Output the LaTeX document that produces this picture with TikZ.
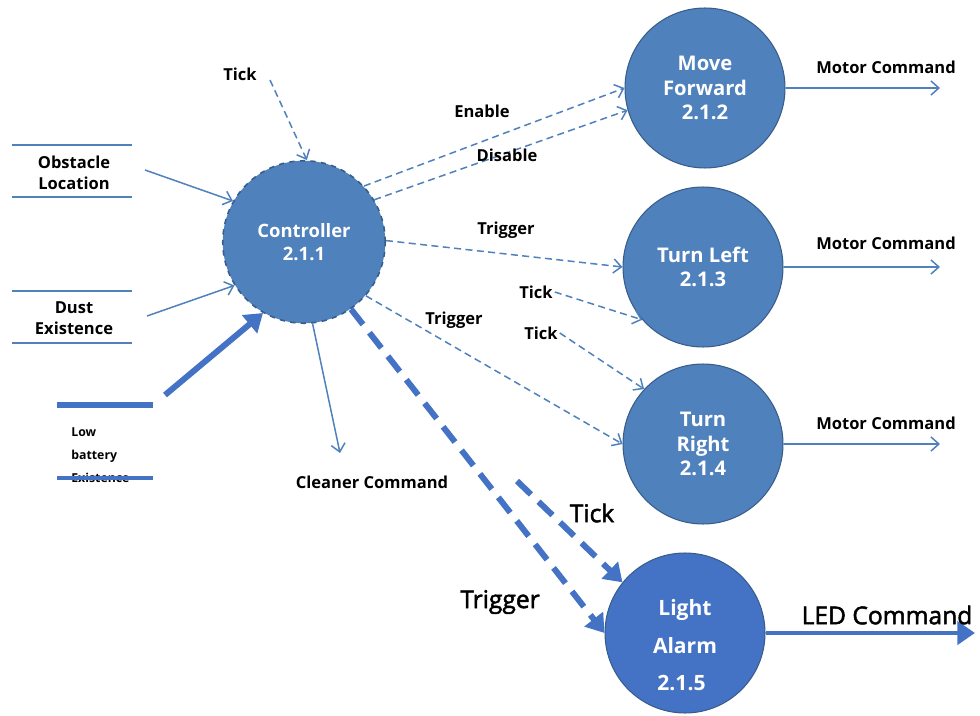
\documentclass[tikz,border=0pt]{standalone}
\usepackage{fontspec}
\setmainfont{Open Sans}
\newfontfamily\medfont[FakeBold=2]{Open Sans}
\usetikzlibrary{arrows.meta}
\definecolor{flowblue}{RGB}{79,129,189}
\definecolor{procfill}{RGB}{79,129,189}
\definecolor{procedge}{RGB}{56,93,138}
\definecolor{alarmfill}{RGB}{68,114,196}
\definecolor{boldblue}{RGB}{68,114,196}
\begin{document}
\begin{tikzpicture}[x=0.02cm,y=-0.02cm,
  proc/.style={circle,fill=procfill,draw=procedge,line width=0.6pt,minimum size=3.2cm,
    inner sep=0pt,text=white,font=\bfseries\fontsize{11.5}{14}\selectfont,align=center},
  ctrlproc/.style={proc,dashed,line width=0.9pt,minimum size=3.25cm,
    font=\bfseries\fontsize{10.5}{13}\selectfont},
  lbl/.style={font=\bfseries\fontsize{9.4}{12}\selectfont,text=black,align=center,inner sep=1pt},
  biglbl/.style={font=\medfont\fontsize{14}{16}\selectfont,text=black,inner sep=1pt},
  flow/.style={draw=flowblue,line width=0.85pt,-{Straight Barb[length=4.5pt,width=8pt]}},
  ctl/.style={flow,dash pattern=on 4pt off 2.5pt},
  boldctl/.style={draw=boldblue,line width=3.4pt,dash pattern=on 11pt off 6pt,
    -{Triangle[length=10pt,width=13pt]}},
  boldflow/.style={draw=boldblue,line width=3.4pt,-{Triangle[length=10pt,width=13pt]}},
  store/.style={draw=flowblue,line width=0.9pt},
]
\fill[white] (0,0) rectangle (980,716);
\useasboundingbox (0,0) rectangle (980,716);

% processes
\node[ctrlproc] (ctrl) at (304,242) {Controller\\2.1.1};
\node[proc] (mf) at (705,88) {Move\\Forward\\2.1.2};
\node[proc] (tl) at (703,267) {Turn Left\\2.1.3};
\node[proc] (tr) at (703,444) {Turn\\Right\\2.1.4};
\node[proc,fill=alarmfill,font=\bfseries\fontsize{12}{21.5}\selectfont] (la) at (685,633)
  {\rule{0pt}{23pt}Light\\Alarm\\2.1.5\hspace*{4pt}};

% data stores
\draw[store] (12,145) -- (132,145);
\draw[store] (12,197) -- (132,197);
\node[lbl] (obst) at (74,173) {Obstacle\\Location};
\draw[store] (12,291) -- (132,291);
\draw[store] (12,343) -- (132,343);
\node[lbl] (dust) at (74,318) {Dust\\Existence};
\draw[draw=boldblue,line width=3.6pt] (57,405) -- (153,405);
\node[font=\bfseries\fontsize{7}{13}\selectfont,align=left,anchor=west,inner sep=0pt] (lowbat) at (71,455) {Low\\battery\\Existence};
\draw[draw=boldblue,line width=2pt] (57,478) -- (153,478);

% inputs to the controller
\coordinate (obstOut) at (145,170);
\draw[flow] (obstOut) -- (ctrl.150);
\coordinate (dustOut) at (147,316);
\draw[flow] (dustOut) -- (ctrl.212);
\coordinate (lowOut) at (165,395);
\draw[boldflow] (lowOut) -- (ctrl.240);
\node[lbl] (tick0) at (240,74) {Tick};
\coordinate (tick0s) at (270,80);
\draw[ctl] (tick0s) -- (ctrl.88);

% controller outputs
\node[lbl] (clean) at (372,482) {Cleaner Command};
\coordinate (cleanIn) at (340,453);
\draw[flow] (ctrl.-84) -- (cleanIn);

\draw[ctl] (ctrl.43) -- (mf.180);
\node[lbl] (enable) at (482,111) {Enable};
\draw[ctl] (ctrl.31) -- (mf.196);
\node[lbl] (disable) at (507,155) {Disable};

\draw[ctl] (ctrl.1) -- (tl.180);
\node[lbl] (trigL) at (506,230) {Trigger};
\node[lbl] (tickL) at (536,292) {Tick};
\draw[ctl] (tickL.east) -- (tl.221);

\draw[ctl] (ctrl.-41) -- (tr.180);
\node[lbl] (trigR) at (454,320) {Trigger};
\node[lbl] (tickR) at (541,333) {Tick};
\draw[ctl] (tickR.east) -- (tr.137);

\draw[boldctl] (ctrl.-55) -- (la.180);
\node[biglbl] (trigA) at (500,602) {Trigger};
\coordinate (tickA) at (517,481);
\draw[boldctl] (tickA) -- (la.141);
\node[biglbl] (tickAl) at (592,513) {Tick};

% process outputs
\coordinate (mfOut) at (940,88);
\draw[flow] (mf.east) -- (mfOut);
\node[lbl] at (886,67) {Motor Command};
\coordinate (tlOut) at (940,267);
\draw[flow] (tl.east) -- (tlOut);
\node[lbl] at (886,243) {Motor Command};
\coordinate (trOut) at (940,444);
\draw[flow] (tr.east) -- (trOut);
\node[lbl] at (886,423) {Motor Command};
\coordinate (laOut) at (975,633);
\draw[boldflow,line width=2.8pt] (la.east) -- (laOut);
\node[biglbl] at (887,615) {LED Command};
\end{tikzpicture}
\end{document}
